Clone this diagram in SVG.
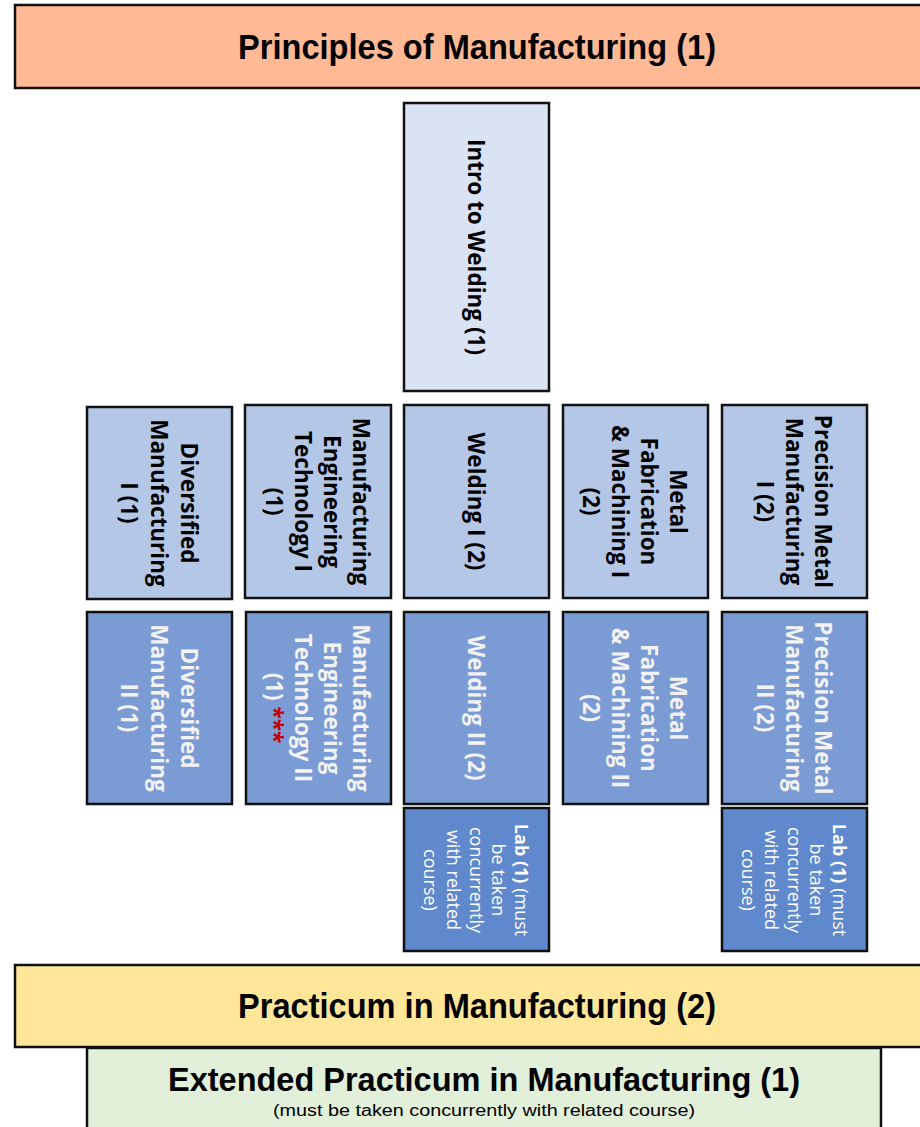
<svg xmlns="http://www.w3.org/2000/svg" width="920" height="1127" viewBox="0 0 920 1127">
<style>
.box{stroke:#111;stroke-width:2.5}
.ban{stroke:#111;stroke-width:2.5}
.c0{fill:#dae3f3}
.c1{fill:#b4c7e7}
.c2{fill:#7b9bd4}
.c3{fill:#6088cc}
.t{font-family:"Open Sans","DejaVu Sans",sans-serif;font-weight:bold;font-size:22.5px;text-anchor:middle;dominant-baseline:central}
.dk{fill:#000}
.wh{fill:#f2f2f2}
.lab{font-family:"Open Sans","DejaVu Sans",sans-serif;font-size:18px;fill:#fff;text-anchor:middle;dominant-baseline:central}
.bt{font-family:"Liberation Sans",Arial,sans-serif;font-weight:bold;fill:#000;text-anchor:middle}
.red{fill:#c00000}
</style>
<g id="principles">
<rect class="ban" x="15" y="5" width="915" height="83" fill="#ffb995"/>
<text class="bt" x="477" y="59" font-size="35" textLength="478" lengthAdjust="spacingAndGlyphs">Principles of Manufacturing (1)</text>
</g>
<g id="intro-welding">
<rect class="box c0" x="404" y="103" width="145" height="288"/>
<text class="t dk" transform="translate(476.5,247) rotate(90)" x="0" y="0">Intro to Welding (1)</text>
</g>
<g id="diversified-1">
<rect class="box c1" x="87" y="407" width="145" height="192"/>
<text class="t dk" transform="translate(159.5,503) rotate(90)"><tspan x="0" y="-30">Diversified</tspan><tspan x="0" y="0">Manufacturing</tspan><tspan x="0" y="30">I (1)</tspan></text>
</g>
<g id="met-1">
<rect class="box c1" x="245" y="405" width="146" height="193"/>
<text class="t dk" transform="translate(318,501.5) rotate(90)"><tspan x="0" y="-43.5">Manufacturing</tspan><tspan x="0" y="-14.5">Engineering</tspan><tspan x="0" y="14.5">Technology I</tspan><tspan x="0" y="43.5">(1)</tspan></text>
</g>
<g id="welding-1">
<rect class="box c1" x="404" y="405" width="145" height="193"/>
<text class="t dk" transform="translate(476.5,501.5) rotate(90)" x="0" y="0">Welding I (2)</text>
</g>
<g id="metalfab-1">
<rect class="box c1" x="563" y="405" width="145" height="193"/>
<text class="t dk" transform="translate(635.5,501.5) rotate(90)"><tspan x="0" y="-43.5">Metal</tspan><tspan x="0" y="-14.5">Fabrication</tspan><tspan x="0" y="14.5">&amp; Machining I</tspan><tspan x="0" y="43.5">(2)</tspan></text>
</g>
<g id="precision-1">
<rect class="box c1" x="722" y="405" width="145" height="193"/>
<text class="t dk" transform="translate(794.5,501.5) rotate(90)"><tspan x="0" y="-29">Precision Metal</tspan><tspan x="0" y="0">Manufacturing</tspan><tspan x="0" y="29">I (2)</tspan></text>
</g>
<g id="diversified-2">
<rect class="box c2" x="87" y="612" width="145" height="192"/>
<text class="t wh" transform="translate(159.5,708) rotate(90)"><tspan x="0" y="-30">Diversified</tspan><tspan x="0" y="0">Manufacturing</tspan><tspan x="0" y="30">II (1)</tspan></text>
</g>
<g id="met-2">
<rect class="box c2" x="246" y="612" width="145" height="192"/>
<text class="t wh" transform="translate(318.5,708) rotate(90)"><tspan x="0" y="-43.5">Manufacturing</tspan><tspan x="0" y="-14.5">Engineering</tspan><tspan x="0" y="14.5">Technology II</tspan><tspan x="0" y="43.5">(1) <tspan class="red">***</tspan></tspan></text>
</g>
<g id="welding-2">
<rect class="box c2" x="404" y="612" width="145" height="192"/>
<text class="t wh" transform="translate(476.5,708) rotate(90)" x="0" y="0">Welding II (2)</text>
</g>
<g id="metalfab-2">
<rect class="box c2" x="563" y="612" width="145" height="192"/>
<text class="t wh" transform="translate(635.5,708) rotate(90)"><tspan x="0" y="-43.5">Metal</tspan><tspan x="0" y="-14.5">Fabrication</tspan><tspan x="0" y="14.5">&amp; Machining II</tspan><tspan x="0" y="43.5">(2)</tspan></text>
</g>
<g id="precision-2">
<rect class="box c2" x="722" y="612" width="145" height="192"/>
<text class="t wh" transform="translate(794.5,708) rotate(90)"><tspan x="0" y="-29">Precision Metal</tspan><tspan x="0" y="0">Manufacturing</tspan><tspan x="0" y="29">II (2)</tspan></text>
</g>
<g id="welding-lab">
<rect class="box c3" x="404" y="808" width="145" height="143"/>
<text class="lab" transform="translate(476.5,880) rotate(90)"><tspan x="0" y="-45.4"><tspan font-weight="bold">Lab (1)</tspan> (must</tspan><tspan x="0" y="-22.7">be taken</tspan><tspan x="0" y="0">concurrently</tspan><tspan x="0" y="22.7">with related</tspan><tspan x="0" y="45.4">course)</tspan></text>
</g>
<g id="precision-lab">
<rect class="box c3" x="722" y="808" width="145" height="143"/>
<text class="lab" transform="translate(794.5,880) rotate(90)"><tspan x="0" y="-45.4"><tspan font-weight="bold">Lab (1)</tspan> (must</tspan><tspan x="0" y="-22.7">be taken</tspan><tspan x="0" y="0">concurrently</tspan><tspan x="0" y="22.7">with related</tspan><tspan x="0" y="45.4">course)</tspan></text>
</g>
<g id="practicum">
<rect class="ban" x="15" y="965" width="915" height="82" fill="#ffe699"/>
<text class="bt" x="477" y="1018" font-size="35" textLength="478" lengthAdjust="spacingAndGlyphs">Practicum in Manufacturing (2)</text>
</g>
<g id="extended-practicum">
<rect class="ban" x="87" y="1048" width="794" height="90" fill="#e2efd9"/>
<text class="bt" x="484" y="1091" font-size="33" textLength="632" lengthAdjust="spacingAndGlyphs">Extended Practicum in Manufacturing (1)</text>
<text x="484" y="1116" font-family="Liberation Sans,Arial,sans-serif" font-size="16" text-anchor="middle" fill="#000" textLength="422" lengthAdjust="spacingAndGlyphs">(must be taken concurrently with related course)</text>
</g>
<g id="connectors"></g>
</svg>
